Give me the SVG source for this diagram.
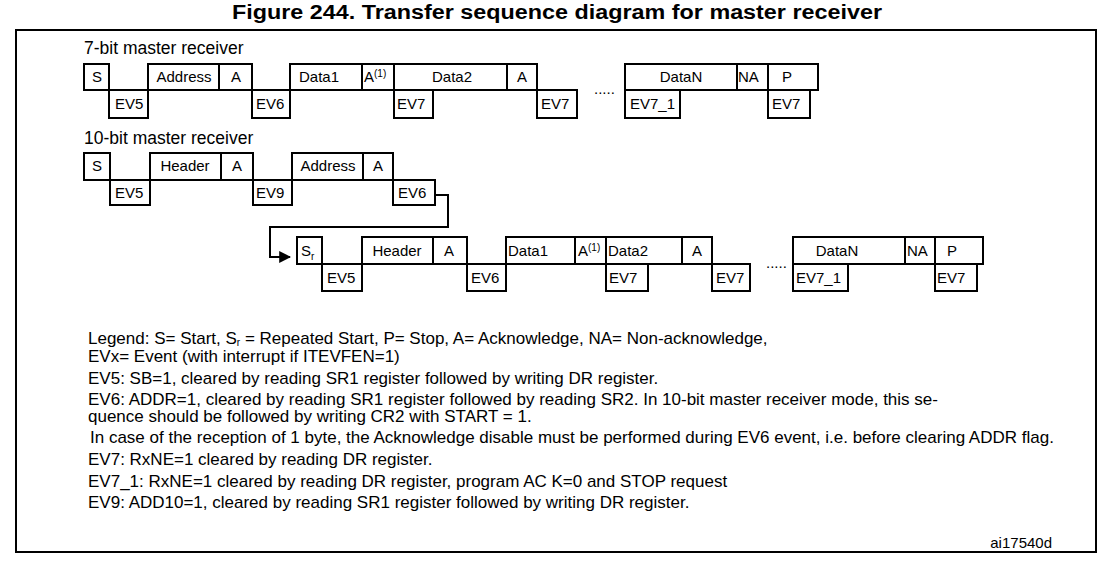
<svg xmlns="http://www.w3.org/2000/svg" width="1114" height="568" viewBox="0 0 1114 568">
<defs>
<style>
.b{fill:#fff;stroke:#000;stroke-width:2}
.t{font-family:"Liberation Sans",Arial,sans-serif;font-size:15px;fill:#000}
.m{text-anchor:middle}
.sup{font-size:10px}
.h{font-family:"Liberation Sans",Arial,sans-serif;font-size:17.5px;fill:#000}
.lg{font-family:"Liberation Sans",Arial,sans-serif;font-size:17px;fill:#000}
.c{fill:none;stroke:#000;stroke-width:2}
</style>
<marker id="ah" viewBox="0 0 10 10" refX="9" refY="5" markerWidth="6" markerHeight="6" markerUnits="strokeWidth" orient="auto"><path d="M0,0 L10,5 L0,10 z" fill="#000"/></marker>
</defs>
<rect width="1114" height="568" fill="#fff"/>
<text x="557" y="19" text-anchor="middle" font-family="Liberation Sans,Arial,sans-serif" font-weight="bold" font-size="20" textLength="650" lengthAdjust="spacingAndGlyphs">Figure 244. Transfer sequence diagram for master receiver</text>
<rect x="16" y="30" width="1080" height="522" fill="none" stroke="#000" stroke-width="2"/>

<text class="h" x="84" y="54">7-bit master receiver</text>
<g id="r7">
<g id="r7-S"><rect class="b" x="84" y="64" width="25" height="26"/><text class="t" x="92" y="82">S</text></g>
<g id="r7-EV5"><rect class="b" x="109" y="90" width="39" height="28"/><text class="t" x="115" y="109">EV5</text></g>
<g id="r7-Address"><rect class="b" x="148" y="64" width="71" height="26"/><text class="t m" x="184" y="82">Address</text></g>
<g id="r7-A1"><rect class="b" x="219" y="64" width="33" height="26"/><text class="t m" x="236" y="82">A</text></g>
<g id="r7-EV6"><rect class="b" x="252" y="90" width="38" height="28"/><text class="t" x="256" y="109">EV6</text></g>
<g id="r7-Data1"><rect class="b" x="290" y="64" width="72" height="26"/><text class="t" x="299" y="82">Data1</text></g>
<g id="r7-A2"><rect class="b" x="362" y="64" width="32" height="26"/><text class="t" x="364" y="82">A<tspan class="sup" dy="-5">(1)</tspan></text></g>
<g id="r7-Data2"><rect class="b" x="394" y="64" width="113" height="26"/><text class="t m" x="452" y="82">Data2</text></g>
<g id="r7-EV7a"><rect class="b" x="394" y="90" width="39" height="28"/><text class="t" x="397" y="109">EV7</text></g>
<g id="r7-A3"><rect class="b" x="507" y="64" width="30" height="26"/><text class="t m" x="522" y="82">A</text></g>
<g id="r7-EV7b"><rect class="b" x="537" y="90" width="40" height="28"/><text class="t" x="541" y="109">EV7</text></g>
<text class="t" x="594" y="94" font-size="10">.....</text>
<g id="r7-DataN"><rect class="b" x="625" y="64" width="112" height="26"/><text class="t m" x="681" y="82">DataN</text></g>
<g id="r7-EV7_1"><rect class="b" x="625" y="90" width="55" height="28"/><text class="t" x="630" y="109">EV7_1</text></g>
<g id="r7-NA"><rect class="b" x="737" y="64" width="31" height="26"/><text class="t" x="738" y="82">NA</text></g>
<g id="r7-P"><rect class="b" x="768" y="64" width="50" height="26"/><text class="t" x="782" y="82">P</text></g>
<g id="r7-EV7c"><rect class="b" x="768" y="90" width="42" height="28"/><text class="t" x="772" y="109">EV7</text></g>
</g>

<text class="h" x="84" y="144">10-bit master receiver</text>
<g id="r10a">
<g id="r10-S"><rect class="b" x="84" y="153" width="26" height="27"/><text class="t" x="92" y="171">S</text></g>
<g id="r10-EV5a"><rect class="b" x="110" y="180" width="40" height="25"/><text class="t" x="115" y="198">EV5</text></g>
<g id="r10-Header1"><rect class="b" x="150" y="153" width="71" height="27"/><text class="t m" x="185" y="171">Header</text></g>
<g id="r10-A1"><rect class="b" x="221" y="153" width="32" height="27"/><text class="t m" x="237" y="171">A</text></g>
<g id="r10-EV9"><rect class="b" x="253" y="180" width="39" height="25"/><text class="t" x="256" y="198">EV9</text></g>
<g id="r10-Address"><rect class="b" x="292" y="153" width="71" height="27"/><text class="t m" x="328" y="171">Address</text></g>
<g id="r10-A2"><rect class="b" x="363" y="153" width="30" height="27"/><text class="t m" x="378" y="171">A</text></g>
<g id="r10-EV6a"><rect class="b" x="393" y="180" width="42" height="25"/><text class="t" x="398" y="198">EV6</text></g>
</g>

<g id="connectors">
<path class="c" d="M435,195 H448 V227 H270 V257 H290" marker-end="url(#ah)"/>
</g>

<g id="r10b">
<g id="r10-Sr"><rect class="b" x="297" y="237" width="25" height="27"/><text class="t" x="301" y="256">S<tspan class="sup" dy="4">r</tspan></text></g>
<g id="r10-EV5b"><rect class="b" x="322" y="264" width="40" height="27"/><text class="t" x="327" y="283">EV5</text></g>
<g id="r10-Header2"><rect class="b" x="362" y="237" width="71" height="27"/><text class="t m" x="397" y="256">Header</text></g>
<g id="r10-A3"><rect class="b" x="433" y="237" width="34" height="27"/><text class="t m" x="449" y="256">A</text></g>
<g id="r10-EV6b"><rect class="b" x="467" y="264" width="39" height="27"/><text class="t" x="471" y="283">EV6</text></g>
<g id="r10-Data1"><rect class="b" x="506" y="237" width="69" height="27"/><text class="t" x="508" y="256">Data1</text></g>
<g id="r10-A4"><rect class="b" x="575" y="237" width="31" height="27"/><text class="t" x="578" y="256">A<tspan class="sup" dy="-5">(1)</tspan></text></g>
<g id="r10-Data2"><rect class="b" x="606" y="237" width="76" height="27"/><text class="t" x="608" y="256">Data2</text></g>
<g id="r10-EV7a"><rect class="b" x="606" y="264" width="42" height="27"/><text class="t" x="609" y="283">EV7</text></g>
<g id="r10-A5"><rect class="b" x="682" y="237" width="30" height="27"/><text class="t m" x="697" y="256">A</text></g>
<g id="r10-EV7b"><rect class="b" x="712" y="264" width="38" height="27"/><text class="t" x="716" y="283">EV7</text></g>
<text class="t" x="766" y="268" font-size="10">.....</text>
<g id="r10-DataN"><rect class="b" x="793" y="237" width="112" height="27"/><text class="t m" x="837" y="256">DataN</text></g>
<g id="r10-EV7_1"><rect class="b" x="793" y="264" width="55" height="27"/><text class="t" x="796" y="283">EV7_1</text></g>
<g id="r10-NA"><rect class="b" x="905" y="237" width="30" height="27"/><text class="t" x="907" y="256">NA</text></g>
<g id="r10-P"><rect class="b" x="935" y="237" width="48" height="27"/><text class="t" x="947" y="256">P</text></g>
<g id="r10-EV7c"><rect class="b" x="935" y="264" width="42" height="27"/><text class="t" x="937" y="283">EV7</text></g>
</g>

<g id="legend">
<text class="lg" x="88" y="344">Legend: S= Start, S<tspan font-size="10" dy="2">r</tspan><tspan dy="-2"> = Repeated Start, P= Stop, A= Acknowledge, NA= Non-acknowledge,</tspan></text>
<text class="lg" x="88" y="362">EVx= Event (with interrupt if ITEVFEN=1)</text>
<text class="lg" x="88" y="384">EV5: SB=1, cleared by reading SR1 register followed by writing DR register.</text>
<text class="lg" x="88" y="405">EV6: ADDR=1, cleared by reading SR1 register followed by reading SR2. In 10-bit master receiver mode, this se-</text>
<text class="lg" x="88" y="422">quence should be followed by writing CR2 with START = 1.</text>
<text class="lg" x="90" y="443">In case of the reception of 1 byte, the Acknowledge disable must be performed during EV6 event, i.e. before clearing ADDR flag.</text>
<text class="lg" x="88" y="465">EV7: RxNE=1 cleared by reading DR register.</text>
<text class="lg" x="88" y="487">EV7_1: RxNE=1 cleared by reading DR register, program AC K=0 and STOP request</text>
<text class="lg" x="88" y="508">EV9: ADD10=1, cleared by reading SR1 register followed by writing DR register.</text>
</g>
<text class="t" x="1052" y="548" text-anchor="end" font-size="14">ai17540d</text>
</svg>
